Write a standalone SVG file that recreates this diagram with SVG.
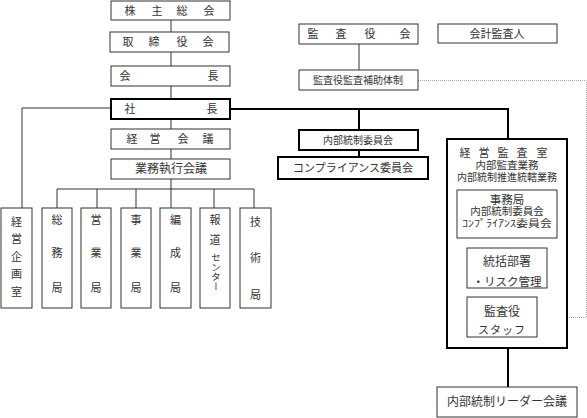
<svg xmlns="http://www.w3.org/2000/svg" width="587" height="418" viewBox="0 0 587 418">
<style>
text{font-family:"Liberation Serif","Noto Sans CJK JP",serif;fill:#333;dominant-baseline:central;text-anchor:middle}
.b{fill:#fff;stroke:#333;stroke-width:1}
.tb{fill:#fff;stroke:#000;stroke-width:2}
.l{stroke:#333;stroke-width:1;fill:none}
.tl{stroke:#000;stroke-width:2;fill:none}
.d{stroke:#aaa;stroke-width:1;fill:none;stroke-dasharray:1 1}
</style>
<rect width="587" height="418" fill="#fff"/>
<g id="connectors">
<path class="l" d="M171 20V32M171 52V66M171 86V99M171 119V129M171 149V159M171 179V189M57 189H254M57 189V208M97 189V208M136 189V208M171 189V208M214 189V208M254 189V208"/>
<path class="l" d="M111 108H22V208"/>
<path class="l" d="M359 44V70"/>
<path class="tl" d="M230 109H508V139M359 109V130M359 150V157M508 348V387"/>
<path class="d" d="M418 80.5H586.5V317.5H537"/>
</g>
<g id="kabunushi"><rect class="b" x="111" y="1" width="119" height="19"/><text font-size="11" x="130 157 182 209" y="11">株主総会</text></g>
<g id="torishimariyaku"><rect class="b" x="110" y="32" width="119" height="20"/><text font-size="11" x="128 154 182 208" y="42">取締役会</text></g>
<g id="kaicho"><rect class="b" x="111" y="66" width="119" height="20"/><text font-size="11" x="125 213" y="76">会長</text></g>
<g id="shacho"><rect class="tb" x="111" y="99" width="119" height="20"/><text font-size="11" x="130 212" y="109">社長</text></g>
<g id="keiei-kaigi"><rect class="b" x="111" y="129" width="119" height="20"/><text font-size="11" x="132 155 183 208" y="139">経営会議</text></g>
<g id="gyomu-shikko"><rect class="b" x="111" y="159" width="119" height="20"/><text font-size="12" x="171" y="169">業務執行会議</text></g>
<g id="kansayakukai"><rect class="b" x="299" y="24" width="119" height="20"/><text font-size="11" x="313 341 370 405" y="34">監査役会</text></g>
<g id="kaikei-kansanin"><rect class="b" x="438" y="24" width="119" height="19"/><text font-size="11" x="497" y="33.5">会計監査人</text></g>
<g id="hojo-taisei"><rect class="b" x="299" y="70" width="119" height="20"/><text font-size="10" x="358" y="80">監査役監査補助体制</text></g>
<g id="naibu-tosei"><rect class="tb" x="299" y="130" width="119" height="20"/><text font-size="10" x="358" y="140">内部統制委員会</text></g>
<g id="compliance"><rect class="tb" x="278" y="157" width="150" height="22"/><text font-size="11" x="353" y="168">コンプライアンス委員会</text></g>
<g id="keiei-kikaku"><rect class="b" x="1" y="208" width="31" height="100"/><text font-size="11"><tspan x="16.5" y="222">経</tspan><tspan x="16.5" y="239">営</tspan><tspan x="16.5" y="257">企</tspan><tspan x="16.5" y="274">画</tspan><tspan x="16.5" y="292">室</tspan></text></g>
<g id="somu"><rect class="b" x="42" y="208" width="30" height="100"/><text font-size="11"><tspan x="57" y="220">総</tspan><tspan x="57" y="253">務</tspan><tspan x="57" y="288">局</tspan></text></g>
<g id="eigyo"><rect class="b" x="81" y="208" width="30" height="100"/><text font-size="11"><tspan x="96" y="220">営</tspan><tspan x="96" y="253">業</tspan><tspan x="96" y="288">局</tspan></text></g>
<g id="jigyo"><rect class="b" x="121" y="208" width="30" height="100"/><text font-size="11"><tspan x="136" y="220">事</tspan><tspan x="136" y="253">業</tspan><tspan x="136" y="288">局</tspan></text></g>
<g id="hensei"><rect class="b" x="160" y="208" width="31" height="100"/><text font-size="11"><tspan x="175.5" y="220">編</tspan><tspan x="175.5" y="253">成</tspan><tspan x="175.5" y="288">局</tspan></text></g>
<g id="hodo"><rect class="b" x="200" y="208" width="30" height="100"/><text font-size="11"><tspan x="215" y="220">報</tspan><tspan x="215" y="240">道</tspan></text><text font-size="9.5" x="215" y="253" writing-mode="vertical-rl" style="text-anchor:start;dominant-baseline:central">センター</text></g>
<g id="gijutsu"><rect class="b" x="240" y="208" width="31" height="100"/><text font-size="11"><tspan x="255.5" y="222">技</tspan><tspan x="255.5" y="258">術</tspan><tspan x="255.5" y="295">局</tspan></text></g>
<g id="keiei-kansa"><rect class="tb" x="447" y="139" width="120" height="209"/>
<text font-size="11" x="465 484 503 522 542" y="153">経営監査室</text>
<text font-size="10.5" x="507" y="165">内部監査業務</text>
<text font-size="10" x="507" y="177">内部統制推進統轄業務</text></g>
<g id="jimukyoku"><rect class="b" x="457" y="190" width="100" height="48"/>
<text font-size="11.5" x="507" y="199.5">事務局</text>
<text font-size="10.5" x="507" y="211">内部統制委員会</text>
<text font-size="10" x="507" y="223" textLength="90" lengthAdjust="spacingAndGlyphs">ｺﾝﾌﾟﾗｲｱﾝｽ委員会</text></g>
<g id="tokatsu"><rect class="b" x="467" y="248" width="80" height="40"/>
<text font-size="12" x="507" y="262">統括部署</text>
<text font-size="11.5" x="507" y="282">・リスク管理</text></g>
<g id="kansayaku-staff"><rect class="b" x="467" y="297" width="70" height="40"/>
<text font-size="12" x="502" y="312">監査役</text>
<text font-size="11" x="502" y="330" letter-spacing="1">スタッフ</text></g>
<g id="leader-kaigi"><rect class="b" x="437" y="387" width="140" height="30"/><text font-size="12" x="507" y="402">内部統制リーダー会議</text></g>
</svg>
